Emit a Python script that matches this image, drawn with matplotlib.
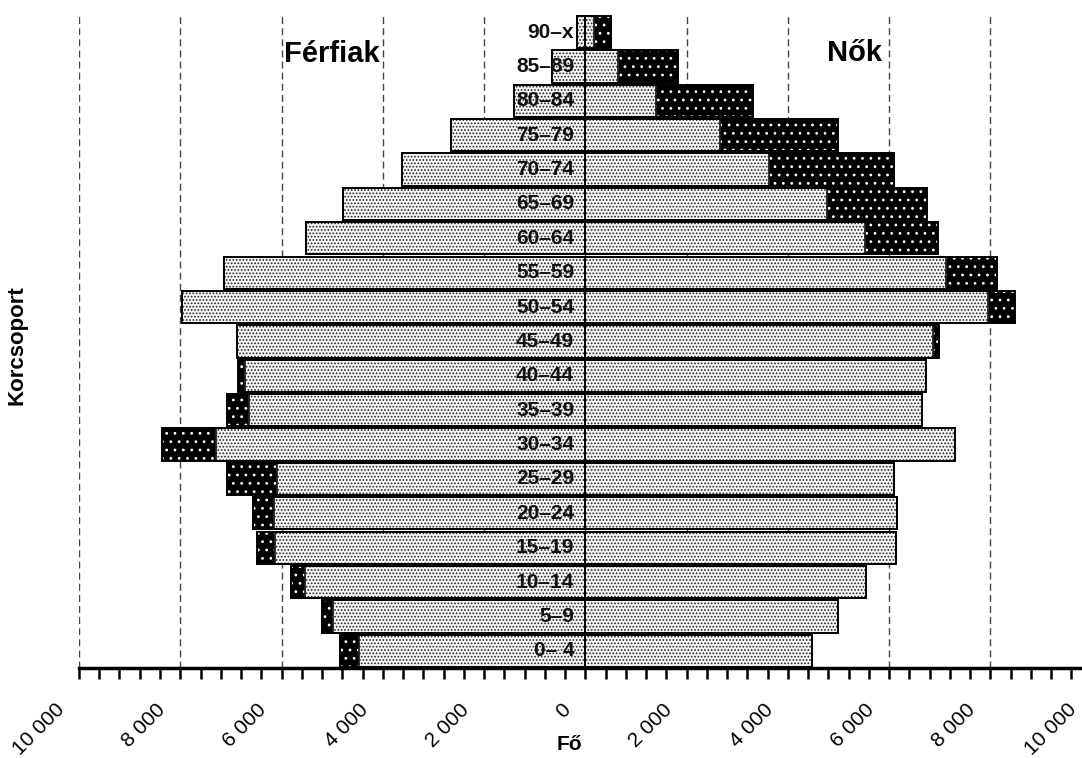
import matplotlib
matplotlib.use('Agg')
import matplotlib.pyplot as plt
from matplotlib.ticker import MultipleLocator
from matplotlib.transforms import ScaledTranslation
import numpy as np

plt.rcParams['font.family'] = ['Liberation Sans', 'DejaVu Sans']
plt.rcParams['hatch.linewidth'] = 0.8

# age groups from bottom to top
age_groups = ['0– 4', '5–9', '10–14', '15–19', '20–24', '25–29', '30–34',
              '35–39', '40–44', '45–49', '50–54', '55–59', '60–64', '65–69',
              '70–74', '75–79', '80–84', '85–89', '90–x']
men = [4840, 5210, 5810, 6480, 6570, 7070, 8370, 7070, 6850, 6875,
       7960, 7130, 5520, 4780, 3620, 2650, 1400, 650, 170]
women = [4480, 4990, 5540, 6130, 6150, 6090, 7290, 6640, 6720, 6990,
         8490, 8120, 6960, 6740, 6100, 4990, 3320, 1830, 500]
xticks = list(range(-10000, 10001, 2000))

men = np.array(men)
women = np.array(women)
common = np.minimum(men, women)
y = np.arange(len(age_groups))
h = 0.94

fig = plt.figure(figsize=(10.82, 7.58), dpi=100)
ax = fig.add_axes([0.073, 0.1187, 0.936, 0.864])

# surplus part: black with white dots
for vals in (-men, women):
    ax.barh(y, vals, height=h, color='black', edgecolor='white',
            hatch='..', linewidth=0, zorder=2)
# common part: light dotted
for vals in (-common, common):
    ax.barh(y, vals, height=h, color='#f6f6f6', edgecolor='#222222',
            hatch='.....', linewidth=1.3, zorder=3)
# outline of whole bar
for vals in (-men, women):
    ax.barh(y, vals, height=h, fill=False, edgecolor='black',
            linewidth=1.4, zorder=4)

for yi, lab in zip(y, age_groups):
    ax.text(-220, yi, lab, ha='right', va='center', fontsize=15,
            fontweight='bold', color='#111111', zorder=6)

ax.text(-5000, 17.35, 'Férfiak', ha='center', va='center', fontsize=21,
        fontweight='bold')
ax.text(5320, 17.4, 'Nők', ha='center', va='center', fontsize=21,
        fontweight='bold')

ax.set_xlim(-10000, 10000)
ax.set_ylim(-0.5, 18.55)
ax.set_yticks([])
for s in ('left', 'right', 'top'):
    ax.spines[s].set_visible(False)
ax.spines['bottom'].set_linewidth(2.5)

ax.set_xticks(xticks)
ax.set_xticklabels([f"{abs(v):,}".replace(',', ' ') for v in xticks])
ax.xaxis.set_minor_locator(MultipleLocator(400))
ax.tick_params(axis='x', which='both', direction='out', length=8, width=1.8,
               pad=15, labelsize=15)
offset = ScaledTranslation(-0.11, 0, fig.dpi_scale_trans)
for lab in ax.get_xticklabels():
    lab.set_rotation(45)
    lab.set_ha('right')
    lab.set_va('top')
    lab.set_transform(lab.get_transform() + offset)

ax.set_axisbelow(True)
ax.xaxis.grid(True, which='major', linestyle=(0, (5, 3)), color='#444444',
              linewidth=1)

ax.set_xlabel('Fő', fontsize=15, fontweight='bold')
ax.xaxis.set_label_coords(0.4847, -0.102)
ax.set_ylabel('Korcsoport', fontsize=16, fontweight='bold')
ax.yaxis.set_label_coords(-0.0513, 0.493)

plt.savefig('out.png', dpi=100)
plt.close()
